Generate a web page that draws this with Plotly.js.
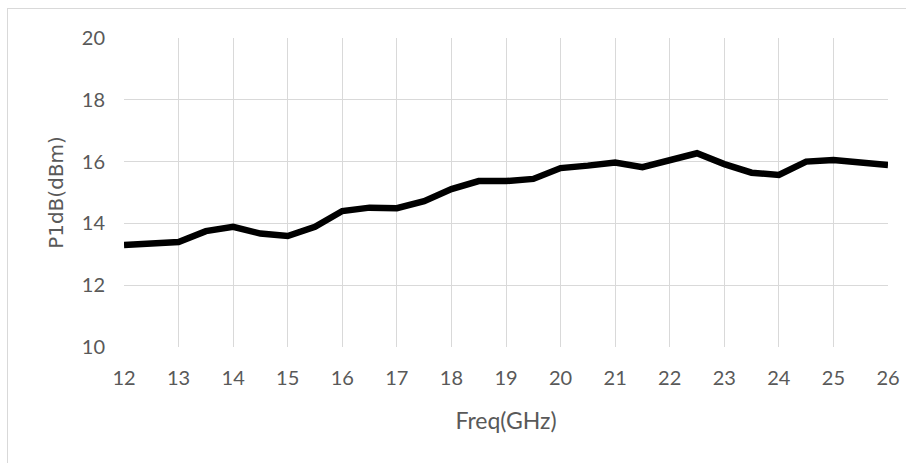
<!DOCTYPE html>
<html>
<head>
<meta charset="utf-8">
<script src="https://cdn.plot.ly/plotly-3.0.1.min.js"></script>
<style>
  html, body { margin: 0; padding: 0; background: #fff; }
  #wrap { position: relative; width: 906px; height: 463px; overflow: hidden; }
  #chart { width: 906px; height: 463px; }
  #frame { position: absolute; left: 7px; top: 8px; width: 920px; height: 480px; border: 1px solid #d9d9d9; box-sizing: border-box; pointer-events: none; }
</style>
</head>
<body>
<div id="wrap">
  <div id="chart"></div>
  <div id="frame"></div>
</div>
<script>
const freqGHz = [12, 12.5, 13, 13.5, 14, 14.5, 15, 15.5, 16, 16.5, 17, 17.5, 18, 18.5, 19, 19.5, 20, 20.5, 21, 21.5, 22, 22.5, 23, 23.5, 24, 24.5, 25, 25.5, 26];
const p1dB = [13.30, 13.35, 13.40, 13.75, 13.89, 13.67, 13.59, 13.89, 14.40, 14.51, 14.49, 14.72, 15.11, 15.37, 15.37, 15.44, 15.79, 15.87, 15.97, 15.82, 16.03, 16.27, 15.92, 15.64, 15.57, 16.00, 16.05, 15.97, 15.89];
const xTicks = [12, 13, 14, 15, 16, 17, 18, 19, 20, 21, 22, 23, 24, 25, 26];
const yTicks = [10, 12, 14, 16, 18, 20];

const tickFont = { family: 'Lato, sans-serif', size: 20, color: '#595959' };
const xTitleFont = { family: 'Lato, sans-serif', size: 23, color: '#595959' };
const yTitleFont = { family: 'DejaVu Sans, sans-serif', size: 20, color: '#595959' };

Plotly.newPlot('chart', [{
  x: freqGHz,
  y: p1dB,
  type: 'scatter',
  mode: 'lines',
  line: { color: '#000000', width: 6.5 },
  hoverinfo: 'skip'
}], {
  width: 906,
  height: 463,
  margin: { l: 124, r: 18, t: 38, b: 116 },
  paper_bgcolor: '#ffffff',
  plot_bgcolor: '#ffffff',
  showlegend: false,
  font: tickFont,
  xaxis: {
    range: [12, 26],
    tickvals: xTicks,
    ticktext: xTicks.map(String),
    showgrid: true,
    gridcolor: '#d9d9d9',
    gridwidth: 1,
    zeroline: false,
    showline: false,
    ticks: 'outside',
    ticklen: 13,
    tickcolor: 'rgba(0,0,0,0)',
    tickfont: tickFont,
    title: { text: 'Freq(GHz)', font: xTitleFont, standoff: 24 }
  },
  yaxis: {
    range: [10, 20],
    tickvals: yTicks,
    ticktext: yTicks.map(String),
    showgrid: true,
    gridcolor: '#d9d9d9',
    gridwidth: 1,
    zeroline: false,
    showline: false,
    ticks: 'outside',
    ticklen: 14,
    tickcolor: 'rgba(0,0,0,0)',
    tickfont: tickFont,
    title: { text: 'P1dB(dBm)', font: yTitleFont, standoff: 12 }
  }
}, { displayModeBar: false, staticPlot: true });
</script>
</body>
</html>
